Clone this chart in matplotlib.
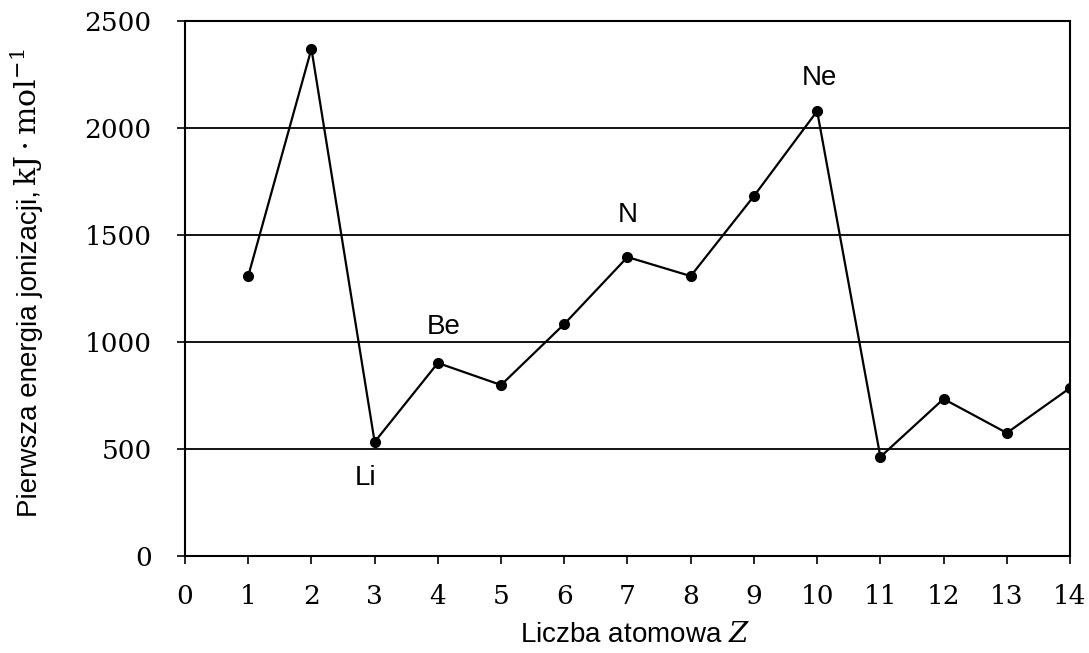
import matplotlib
matplotlib.use("Agg")
import matplotlib.pyplot as plt

# Data
Z = [1, 2, 3, 4, 5, 6, 7, 8, 9, 10, 11, 12, 13, 14]
energy = [1308, 2370, 533, 902, 799, 1084, 1397, 1308, 1682, 2079, 463, 734, 575, 785]
labels = {3: "Li", 4: "Be", 7: "N", 10: "Ne"}
label_offsets = {3: (-6.5, -26), 4: (4, 26), 7: (0, 30), 10: (2, 24)}
xticks = list(range(0, 15))
yticks = [0, 500, 1000, 1500, 2000, 2500]

plt.rcParams['mathtext.fontset'] = 'custom'
plt.rcParams['mathtext.rm'] = 'DejaVu Serif'
plt.rcParams['mathtext.it'] = 'DejaVu Serif:italic'

W, H = 1089, 653
fig = plt.figure(figsize=(W/100, H/100), dpi=100)
ax = fig.add_axes([185/W, 1-556/H, (1070-185)/W, (556-21)/H])

ax.plot(Z, energy, color='black', lw=1.6, marker='o', ms=7, mfc='black', mec='black', zorder=3)

for z, t in labels.items():
    dx, dy = label_offsets[z]
    ax.annotate(t, (z, energy[z-1]), xytext=(dx, dy), textcoords='offset points',
                ha='center', va='center', fontsize=20, family='Liberation Sans')

ax.set_xlim(0, 14)
ax.set_ylim(0, 2500)
ax.set_xticks(xticks)
ax.set_yticks(yticks)
ax.set_xticklabels([str(v) for v in xticks], family='DejaVu Serif', fontsize=19)
ax.set_yticklabels([str(v) for v in yticks], family='DejaVu Serif', fontsize=19)
ax.tick_params(axis='x', direction='out', length=6, width=1.2, pad=14)
ax.tick_params(axis='y', direction='out', length=6, width=1.2, pad=18)

for y in yticks[1:]:
    ax.axhline(y, color='black', lw=1.3, zorder=1)

for s in ax.spines.values():
    s.set_color('black')
    s.set_linewidth(1.5)

# x-axis label
fig.text(635/W, 1-642/H, "Liczba atomowa $Z$", family='Liberation Sans', fontsize=20,
         ha='center', va='baseline')

# y-axis label: sans part + serif unit part
fig.text(37/W, 1-517/H, "Pierwsza energia jonizacji,", family='Liberation Sans', fontsize=20,
         rotation=90, rotation_mode='anchor', ha='left', va='baseline')
fig.text(37/W, 1-186/H, r"$\mathrm{kJ\cdot mol^{-1}}$", fontsize=21.5,
         rotation=90, rotation_mode='anchor', ha='left', va='baseline')

fig.savefig("out.png", dpi=100)
